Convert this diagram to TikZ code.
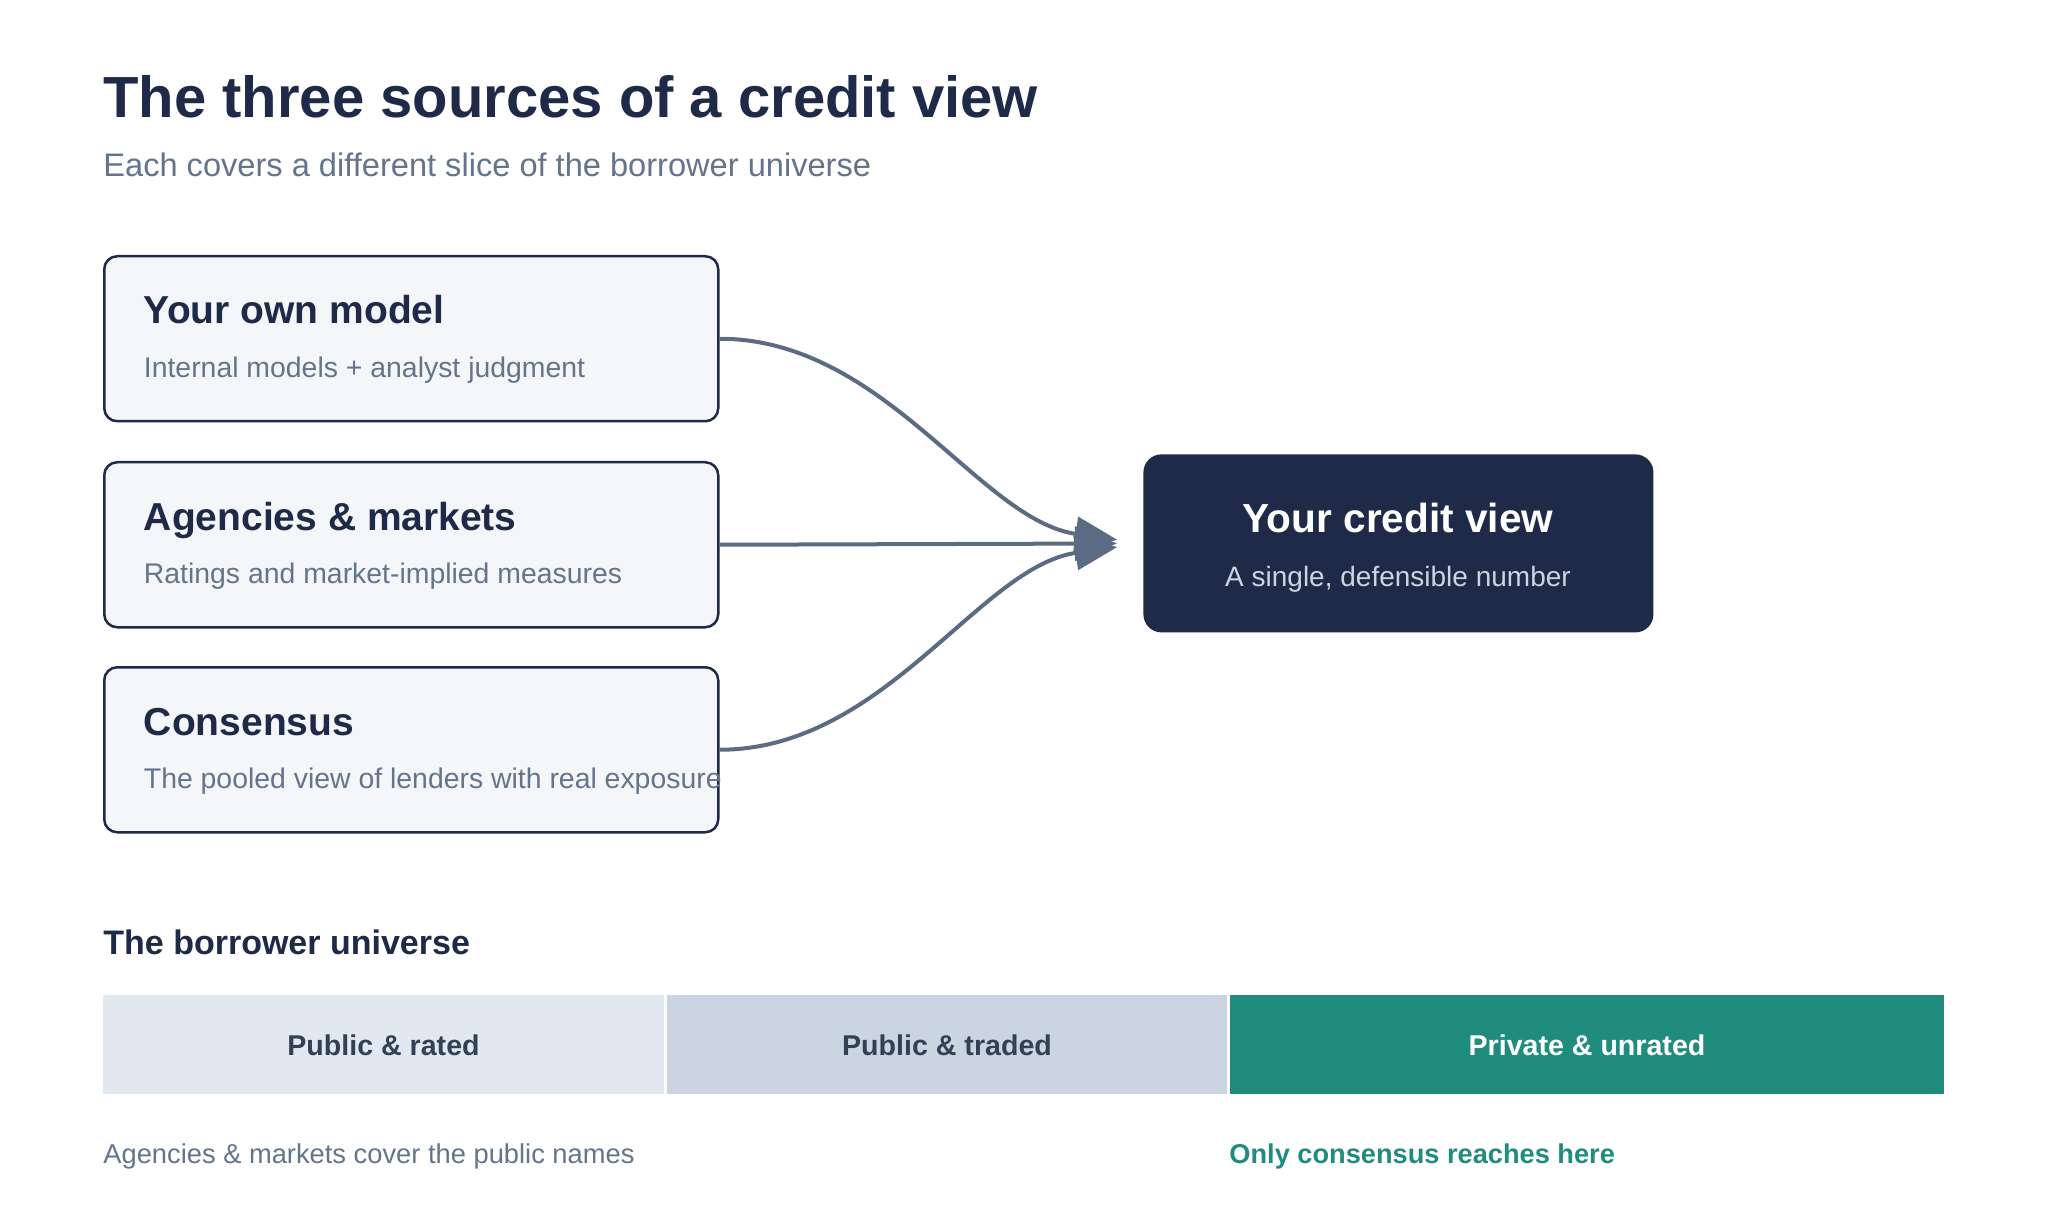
\documentclass[tikz,border=0pt]{standalone}
\usepackage{fontspec}
\setmainfont{Liberation Sans}
\usepackage{xcolor}
\usetikzlibrary{arrows.meta}
\definecolor{navy}{HTML}{1E2A47}
\definecolor{slate}{HTML}{64748B}
\definecolor{arrowgray}{HTML}{5B6B84}
\definecolor{boxfill}{HTML}{F4F6FA}
\definecolor{barone}{HTML}{E2E8F0}
\definecolor{bartwo}{HTML}{CBD5E1}
\definecolor{tealbar}{HTML}{1F8C7E}
\definecolor{barlabel}{HTML}{334155}
\definecolor{paletext}{HTML}{CBD5E1}

\begin{document}
\begin{tikzpicture}[x=0.5pt,y=-0.5pt,
  source/.style={draw=navy,line width=1.25pt,fill=boxfill,rounded corners=6.5pt,
    minimum width=307pt,minimum height=82.5pt,inner sep=0pt,anchor=north west},
  head/.style={anchor=base west,inner sep=0pt,text=navy,font=\bfseries\fontsize{19.5}{23}\selectfont},
  sub/.style={anchor=base west,inner sep=0pt,text=slate,font=\fontsize{14.2}{17}\selectfont},
  flow/.style={draw=arrowgray,line width=2pt,shorten >=13pt,-{Triangle[length=21pt,width=17pt]}},
  seglabel/.style={anchor=base,inner sep=0pt,font=\bfseries\fontsize{14.3}{17}\selectfont}]
\fill[white] (0,0) rectangle (2048,1229);
\useasboundingbox (0,0) rectangle (2048,1229);
% heading
\node[anchor=base west,inner sep=0pt,text=navy,font=\bfseries\fontsize{29}{34}\selectfont] (title) at (103,118) {The three sources of a credit view};
\node[anchor=base west,inner sep=0pt,text=slate,font=\fontsize{16.3}{19}\selectfont] (subtitle) at (103,177) {Each covers a different slice of the borrower universe};
% the three sources
\foreach \n/\y/\head/\sub in {own/255/Your own model/Internal models + analyst judgment,
    agency/461/Agencies \& markets/Ratings and market-implied measures,
    cons/666/Consensus/The pooled view of lenders with real exposure}{
  \node[source] (\n) at (103,\y) {};
  \node[head] (\n-head) at (143.5,\y+69) {\head};
  \node[sub] (\n-sub) at (143.5,\y+122.5) {\sub};
}
% the result
\node[fill=navy,rounded corners=9pt,minimum width=255pt,minimum height=89pt,inner sep=0pt,anchor=north west] (view) at (1143,454) {};
\node[anchor=base,inner sep=0pt,text=white,font=\bfseries\fontsize{20.3}{24}\selectfont] (view-head) at (1398,532) {Your credit view};
\node[anchor=base,inner sep=0pt,text=paletext,font=\fontsize{14}{17}\selectfont] (view-sub) at (1398,586) {A single, defensible number};
\draw[flow] (own.east) to[out=0,in=172,looseness=0.9] (view.west);
\draw[flow] (agency.east) -- (view.west);
\draw[flow] (cons.east) to[out=0,in=188,looseness=0.9] (view.west);
% borrower universe
\node[anchor=base west,inner sep=0pt,text=navy,font=\bfseries\fontsize{17}{20}\selectfont] (universe) at (103,954) {The borrower universe};
\foreach \n/\xa/\xb/\col/\txt/\tcol in {rated/103/664/barone/Public \& rated/barlabel,
    traded/667/1227/bartwo/Public \& traded/barlabel,
    private/1230/1944/tealbar/Private \& unrated/white}{
  \fill[\col] (\xa,995) rectangle (\xb,1094);
  \node[seglabel,text=\tcol] (\n) at ({(\xa+\xb)/2},1055) {\txt};
}
\node[anchor=base west,inner sep=0pt,text=slate,font=\fontsize{13.65}{16}\selectfont] (note-public) at (103,1163) {Agencies \& markets cover the public names};
\node[anchor=base west,inner sep=0pt,text=tealbar,font=\bfseries\fontsize{13.6}{16}\selectfont] (note-private) at (1229,1163) {Only consensus reaches here};
\end{tikzpicture}
\end{document}
